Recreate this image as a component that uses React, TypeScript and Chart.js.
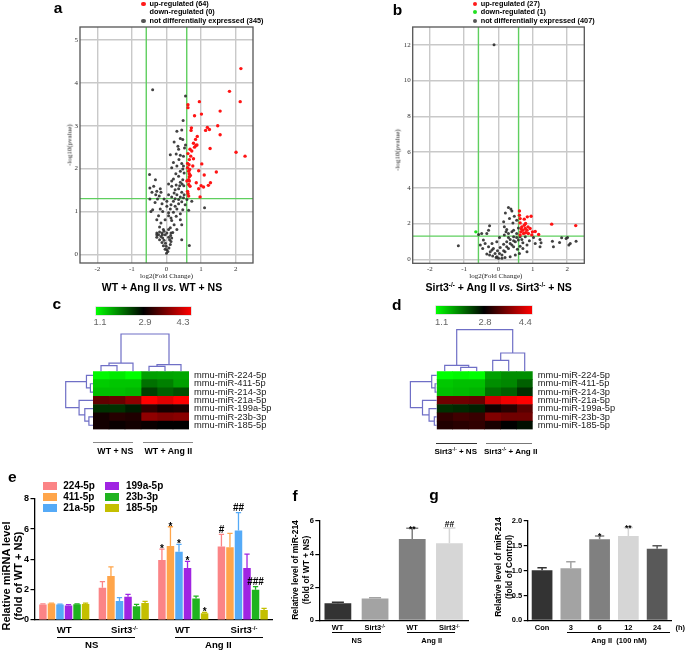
import React, { useEffect, useRef } from 'react';
import { Chart, registerables } from 'chart.js';

Chart.register(...registerables);

const SANS = '"Liberation Sans", Arial, Helvetica, sans-serif';
const SERIF = '"Liberation Serif", "Times New Roman", serif';
Chart.defaults.font.family = SANS;
Chart.defaults.color = '#000';

// ---------------- DATA ----------------
// Volcano a: WT + Ang II vs WT + NS  ([log2FC, -log10 p])
const volcA_up: number[][] = [
  [2.15, 4.33], [1.82, 3.8], [2.13, 3.56], [0.95, 3.56], [0.62, 3.49], [0.62, 3.42], [1.55, 3.34], [1.01, 3.27],
  [0.81, 3.23], [1.48, 3.0], [1.18, 2.96], [1.24, 2.91], [0.72, 2.95], [0.71, 2.89], [1.13, 2.89], [1.55, 2.79],
  [0.84, 2.68], [0.78, 2.59], [0.85, 2.54], [0.88, 2.55], [0.81, 2.5], [1.26, 2.47], [0.68, 2.45], [2.27, 2.29],
  [2.01, 2.38], [0.7, 2.29], [0.78, 2.23], [0.66, 2.21], [0.61, 2.12], [1.02, 2.11], [0.65, 2.09], [0.61, 2.02],
  [0.67, 1.98], [0.93, 1.95], [1.44, 1.92], [1.09, 1.85], [0.66, 1.88], [0.66, 1.81], [0.64, 1.74], [0.66, 1.71],
  [0.86, 1.67], [1.27, 1.67], [0.64, 1.63], [1.21, 1.61], [1.0, 1.6], [0.93, 1.53], [0.61, 1.47], [0.62, 1.42],
  [0.97, 1.34], [0.64, 1.36], [0.73, 2.41], [0.62, 2.35], [0.89, 2.75], [0.69, 1.84], [1.07, 1.57], [0.76, 2.06],
  [0.64, 1.94], [0.68, 1.59], [0.59, 1.71],
];
const volcA_down: number[][] = [];
const volcA_ns: number[][] = [
  [-0.4, 3.84], [0.55, 3.69], [0.48, 3.12], [0.44, 2.9], [0.3, 2.87], [0.47, 2.68], [0.4, 2.7], [0.22, 2.62],
  [0.55, 2.55], [0.52, 2.48], [0.35, 2.45], [0.11, 2.32], [0.28, 2.34], [0.4, 2.31], [0.49, 2.29], [0.36, 2.21],
  [0.2, 2.14], [0.44, 2.12], [0.3, 2.06], [0.15, 2.02], [0.47, 1.99], [0.4, 1.94], [0.51, 1.9], [-0.49, 1.86],
  [0.27, 1.88], [0.35, 1.82], [0.2, 1.76], [0.47, 1.74], [-0.32, 1.74], [0.4, 1.68], [0.06, 1.64], [0.28, 1.62],
  [0.15, 1.59], [0.5, 1.6], [-0.37, 1.59], [-0.48, 1.55], [0.35, 1.53], [-0.18, 1.53], [-0.28, 1.47], [-0.42, 1.45],
  [-0.16, 1.45], [0.44, 1.45], [0.22, 1.43], [-0.31, 1.39], [0.06, 1.39], [0.3, 1.39], [0.51, 1.39], [-0.21, 1.36],
  [0.15, 1.34], [0.4, 1.34], [-0.48, 1.29], [-0.26, 1.29], [-0.07, 1.29], [0.25, 1.3], [0.59, 1.28], [0.73, 1.24],
  [0.2, 1.24], [0.44, 1.23], [-0.33, 1.21], [-0.13, 1.18], [0.35, 1.18], [0.54, 1.16], [1.1, 1.09], [-0.4, 1.04],
  [-0.18, 1.06], [0.11, 1.06], [0.3, 1.06], [0.47, 1.04], [0.64, 1.03], [-0.45, 1.0], [-0.11, 1.0], [0.2, 0.98],
  [0.4, 0.95], [-0.23, 0.9], [0.06, 0.9], [0.28, 0.89], [-0.28, 0.81], [0.15, 0.79], [0.4, 0.81], [-0.16, 0.73],
  [0.22, 0.69], [0.44, 0.69], [-0.2, 0.64], [0.11, 0.62], [0.3, 0.58], [-0.09, 0.58], [-0.28, 0.5], [0.18, 0.51],
  [0.44, 0.34], [0.66, 0.21], [-0.23, 0.46], [-0.16, 0.42], [-0.11, 0.38], [-0.07, 0.33], [-0.03, 0.26], [-0.01, 0.19],
  [0.01, 0.11], [0.0, 0.03], [0.07, 0.15], [0.11, 0.23], [0.13, 0.3], [0.15, 0.38], [0.12, 0.44], [0.06, 0.4],
  [-0.04, 0.46], [-0.12, 0.46], [-0.28, 0.4], [-0.2, 0.34], [-0.13, 0.28], [-0.09, 0.2], [-0.04, 0.12], [0.04, 0.07],
  [0.09, 0.34], [0.01, 0.5], [-0.07, 0.54], [0.06, 0.58], [0.13, 0.5], [-0.13, 0.5], [-0.2, 0.52], [-0.28, 0.46],
  [0.06, 0.97], [0.13, 0.85], [-0.04, 0.81], [0.01, 1.12], [0.13, 1.16], [0.25, 1.12], [0.01, 1.24], [0.35, 1.28],
  [0.49, 1.32], [0.25, 1.51], [0.38, 1.6], [0.15, 1.71], [0.45, 1.64], [0.49, 2.06], [0.33, 2.52],
];

// Volcano b: Sirt3-/- + Ang II vs Sirt3-/- + NS
const volcB_up: number[][] = [
  [0.61, 2.71], [0.63, 2.28], [0.75, 2.25], [0.84, 2.38], [0.95, 2.41], [0.63, 2.04], [0.79, 2.01], [0.68, 1.82],
  [0.78, 1.73], [0.71, 1.63], [0.83, 1.63], [0.92, 1.73], [0.65, 1.54], [0.79, 1.49], [0.87, 1.45], [0.99, 1.54],
  [1.17, 1.39], [1.55, 1.97], [2.25, 1.89], [0.73, 1.45], [0.66, 1.71], [0.86, 1.82], [0.97, 1.37], [0.63, 1.36],
  [0.75, 1.91], [1.07, 1.56], [0.61, 2.47],
];
const volcB_down: number[][] = [[-0.66, 1.54]];
const volcB_ns: number[][] = [
  [-0.13, 12.0], [0.29, 2.9], [0.36, 2.82], [0.39, 2.71], [0.2, 2.6], [0.46, 2.41], [0.32, 2.28], [0.53, 2.19],
  [0.42, 2.04], [-0.26, 1.88], [0.17, 1.82], [0.58, 1.76], [0.24, 1.67], [0.44, 1.63], [-0.29, 1.63], [-0.34, 1.45],
  [-0.58, 1.39], [-0.49, 1.45], [0.29, 1.45], [0.53, 1.45], [0.78, 1.26], [1.02, 1.23], [1.21, 1.11], [1.84, 1.21],
  [2.01, 1.23], [1.97, 1.17], [2.26, 1.02], [2.09, 0.89], [2.05, 0.8], [1.78, 0.95], [1.57, 1.02], [1.6, 0.71],
  [1.24, 0.93], [1.21, 0.71], [1.07, 0.89], [0.9, 1.04], [0.83, 0.8], [0.71, 0.93], [-1.17, 0.76], [-0.44, 1.08],
  [-0.39, 0.89], [-0.29, 0.71], [-0.19, 0.52], [-0.1, 0.33], [-0.05, 0.15], [0.0, 0.06], [0.1, 0.24], [0.19, 0.43],
  [0.29, 0.61], [0.39, 0.8], [0.49, 0.98], [0.58, 1.08], [0.63, 1.26], [0.44, 1.26], [0.34, 1.11], [0.24, 0.98],
  [0.15, 0.84], [0.05, 0.67], [-0.03, 0.48], [-0.15, 0.61], [-0.24, 0.43], [-0.34, 0.3], [-0.26, 0.24], [-0.17, 0.19],
  [0.03, 0.33], [0.15, 0.48], [0.24, 0.71], [0.34, 0.89], [0.44, 1.04], [0.53, 1.23], [0.68, 1.11], [0.71, 0.61],
  [0.83, 0.43], [0.61, 0.33], [0.49, 0.24], [0.34, 0.15], [0.19, 0.11], [0.1, 0.06], [-0.07, 0.11], [-0.53, 0.8],
  [-0.46, 0.61], [-0.05, 0.98], [-0.19, 0.89], [0.03, 1.23], [0.17, 1.36], [0.39, 1.54], [0.15, 2.1], [0.22, 1.54],
  [0.29, 1.23], [0.44, 0.71], [0.55, 0.56], [0.63, 0.74],
];
const foldCut = 0.585; // log2(1.5)
const pCut = 1.301; // -log10(0.05)
const volcXTicks = [-2, -1, 0, 1, 2];
const volcAYTicks = [0, 1, 2, 3, 4, 5];
const volcBYTicks = [0, 2, 4, 6, 8, 10, 12];

// Heatmaps c / d
const heatRows = ['mmu-miR-224-5p', 'mmu-miR-411-5p', 'mmu-miR-214-3p', 'mmu-miR-21a-5p', 'mmu-miR-199a-5p', 'mmu-miR-23b-3p', 'mmu-miR-185-5p'];
const heatC: number[][] = [
  [1.15, 1.25, 1.1, 1.77, 1.75, 1.72],
  [1.46, 1.5, 1.5, 2.1, 2.0, 1.77],
  [1.55, 1.55, 1.6, 2.45, 2.22, 2.34],
  [3.43, 3.48, 3.69, 4.3, 4.13, 4.3],
  [2.56, 2.55, 2.7, 3.16, 3.01, 3.05],
  [3.01, 3.11, 3.07, 3.69, 3.6, 3.65],
  [3.0, 2.95, 3.0, 2.95, 2.9, 2.9],
];
const heatD: number[][] = [
  [1.1, 1.15, 1.1, 1.73, 1.85, 1.85],
  [1.47, 1.52, 1.52, 1.85, 1.9, 2.16],
  [1.52, 1.56, 1.6, 2.05, 2.16, 2.48],
  [3.5, 3.5, 3.45, 4.1, 4.3, 4.4],
  [2.48, 2.53, 2.59, 2.9, 3.05, 3.36],
  [3.1, 3.2, 3.15, 3.6, 3.5, 3.5],
  [3.0, 3.05, 3.1, 2.95, 2.8, 2.7],
];
const heatCScale = [1.1, 2.9, 4.3];
const heatDScale = [1.1, 2.8, 4.4];
// linkage: [nodeA, nodeB, mergeHeight (fraction of dendrogram depth)]
const colLinkC = [[0, 1, 0.15], [6, 2, 0.22], [3, 4, 0.13], [8, 5, 0.18], [7, 9, 1]];
const rowLinkC = [[1, 2, 0.095], [0, 7, 0.24], [5, 6, 0.15], [4, 9, 0.3], [3, 10, 0.51], [8, 11, 1]];
const colLinkD = [[1, 2, 0.096], [0, 6, 0.144], [3, 4, 0.264], [8, 5, 0.44], [7, 9, 1]];
const rowLinkD = [[1, 2, 0.06], [0, 7, 0.19], [5, 6, 0.09], [4, 9, 0.29], [3, 10, 0.54], [8, 11, 1]];

// Panel e
const eGroups = ['WT', 'Sirt3-/-', 'WT', 'Sirt3-/-'];
const eSeries = ['224-5p', '411-5p', '21a-5p', '199a-5p', '23b-3p', '185-5p'];
const e224 = [1.03, 2.13, 3.96, 4.84];
const e411 = [1.08, 2.9, 4.88, 4.79];
const e21a = [1.02, 1.25, 4.5, 5.91];
const e199a = [0.96, 1.54, 3.43, 3.43];
const e23b = [1.04, 0.9, 1.41, 2.0];
const e185 = [1.06, 1.12, 0.44, 0.66];
const eErr224 = [0.03, 0.4, 0.72, 0.81];
const eErr411 = [0.03, 0.6, 1.27, 0.92];
const eErr21a = [0.03, 0.22, 0.49, 1.17];
const eErr199a = [0.05, 0.15, 0.44, 0.92];
const eErr23b = [0.03, 0.13, 0.17, 0.2];
const eErr185 = [0.05, 0.11, 0.06, 0.11];
const eMarks224 = ['', '', '*', '#'];
const eMarks411 = ['', '', '*', ''];
const eMarks21a = ['', '', '*', '##'];
const eMarks199a = ['', '', '*', ''];
const eMarks23b = ['', '', '', '###'];
const eMarks185 = ['', '', '*', ''];

// Panel f
const fLabels = ['WT', 'Sirt3-/-', 'WT', 'Sirt3-/-'];
const fValues = [1.03, 1.31, 4.91, 4.65];
const fErrors = [0.06, 0.05, 0.65, 0.93];
const fMarks = ['', '', '**', '##'];

// Panel g
const gLabels = ['Con', '3', '6', '12', '24'];
const gValues = [1.01, 1.05, 1.63, 1.7, 1.44];
const gErrors = [0.05, 0.13, 0.07, 0.17, 0.06];
const gMarks = ['', '', '*', '**', ''];

// ---------------- STYLE ----------------
const eColors = ['#fb8486', '#ffa54a', '#55aaf7', '#a024e2', '#1fb31f', '#c4bf00'];
const fColors = ['#333333', '#a3a3a3', '#808080', '#d6d6d6'];
const gColors = ['#333333', '#a3a3a3', '#808080', '#d6d6d6', '#595959'];

function heatColor(v: number, sc: number[]) {
  const [lo, mid, hi] = sc;
  if (v <= mid) {
    const t = Math.max(0, Math.min(1, (mid - v) / (mid - lo)));
    return `rgb(0,${Math.round(255 * t)},0)`;
  }
  const t = Math.max(0, Math.min(1, (v - mid) / (hi - mid)));
  return `rgb(${Math.round(255 * t)},0,0)`;
}

// ---------------- PLUGINS ----------------
const volcanoPlugin = {
  id: 'volcano',
  beforeDatasetsDraw(chart: any, _a: any, opts: any) {
    if (!opts || opts.foldCut == null) return;
    const { ctx, chartArea: ca, scales } = chart;
    ctx.save();
    ctx.strokeStyle = '#5fcf5f';
    ctx.lineWidth = 1.4;
    ctx.beginPath();
    for (const v of [-opts.foldCut, opts.foldCut]) {
      const x = scales.x.getPixelForValue(v);
      ctx.moveTo(x, ca.top);
      ctx.lineTo(x, ca.bottom);
    }
    const y = scales.y.getPixelForValue(opts.pCut);
    ctx.moveTo(ca.left, y);
    ctx.lineTo(ca.right, y);
    ctx.stroke();
    ctx.restore();
  },
  afterDraw(chart: any, _a: any, opts: any) {
    if (!opts || opts.foldCut == null) return;
    const { ctx, chartArea: ca } = chart;
    ctx.save();
    ctx.strokeStyle = '#555';
    ctx.lineWidth = 1.3;
    ctx.strokeRect(ca.left, ca.top, ca.right - ca.left, ca.bottom - ca.top);
    ctx.restore();
  },
};

function drawTree(ctx: any, leaf: number[], links: number[][], base: number, span: number, vertical: boolean) {
  const pos = [...leaf];
  const hts = leaf.map(() => 0);
  ctx.beginPath();
  for (const [a, b, h] of links) {
    const pa = pos[a], pb = pos[b];
    const da = base - hts[a] * span, db = base - hts[b] * span, d = base - h * span;
    if (vertical) {
      ctx.moveTo(pa, da); ctx.lineTo(pa, d); ctx.lineTo(pb, d); ctx.lineTo(pb, db);
    } else {
      ctx.moveTo(da, pa); ctx.lineTo(d, pa); ctx.lineTo(d, pb); ctx.lineTo(db, pb);
    }
    pos.push((pa + pb) / 2);
    hts.push(h);
  }
  ctx.stroke();
}

const dendroPlugin = {
  id: 'dendro',
  afterDatasetsDraw(chart: any, _a: any, opts: any) {
    if (!opts || !opts.colLinks) return;
    const { ctx, chartArea: ca, scales } = chart;
    const nCols = chart.data.datasets.length;
    const nRows = chart.data.labels.length;
    const colPos = Array.from({ length: nCols }, (_, j) => scales.x.getPixelForValue(j + 0.5));
    const rowPos = Array.from({ length: nRows }, (_, i) => scales.y.getPixelForValue(i));
    ctx.save();
    ctx.strokeStyle = '#6f6fc6';
    ctx.lineWidth = 1.2;
    drawTree(ctx, colPos, opts.colLinks, ca.top, opts.colSpan, true);
    drawTree(ctx, rowPos, opts.rowLinks, ca.left, opts.rowSpan, false);
    ctx.restore();
  },
};

const errBarsPlugin = {
  id: 'errBars',
  afterDatasetsDraw(chart: any, _a: any, opts: any) {
    if (!opts || !opts.errors) return;
    const ctx = chart.ctx;
    const ys = chart.scales.y;
    chart.data.datasets.forEach((ds: any, di: number) => {
      const meta = chart.getDatasetMeta(di);
      const errs = opts.errors[di];
      const marks = opts.marks ? opts.marks[di] : null;
      meta.data.forEach((bar: any, i: number) => {
        const v = ds.data[i];
        const e = errs[i];
        const col = opts.colors ? opts.colors[i] : (Array.isArray(ds.backgroundColor) ? ds.backgroundColor[i] : ds.backgroundColor);
        const x = bar.x;
        const y0 = ys.getPixelForValue(v);
        const y1 = ys.getPixelForValue(v + e);
        const hw = (bar.width * opts.capFrac) / 2;
        ctx.save();
        ctx.strokeStyle = col;
        ctx.lineWidth = opts.lineWidth;
        ctx.beginPath();
        ctx.moveTo(x, y0);
        ctx.lineTo(x, y1);
        ctx.moveTo(x - hw, y1);
        ctx.lineTo(x + hw, y1);
        ctx.stroke();
        const m = marks && marks[i];
        if (m) {
          ctx.fillStyle = '#000';
          ctx.font = `bold ${opts.markSize}px ${SANS}`;
          ctx.textAlign = 'center';
          ctx.textBaseline = 'alphabetic';
          const off = m[0] === '*' ? opts.starOffset : opts.hashOffset;
          ctx.fillText(m, x, y1 + off);
        }
        ctx.restore();
      });
    });
  },
};

Chart.register(volcanoPlugin as any, dendroPlugin as any, errBarsPlugin as any);

// ---------------- CONFIG BUILDERS ----------------
function pts(a: number[][]) {
  return a.map(([x, y]) => ({ x, y }));
}

function fixedTicks(values: number[]) {
  return (s: any) => { s.ticks = values.map((value) => ({ value })); };
}

function volcanoConfig(up: number[][], down: number[][], ns: number[][], yMin: number, yMax: number, yTicks: number[], pad: any, yW: number) {
  const tickFont = { family: SERIF, size: 7 };
  return {
    type: 'scatter',
    data: {
      datasets: [
        { data: pts(up), backgroundColor: '#ff1414', pointRadius: 1.7, borderWidth: 0 },
        { data: pts(down), backgroundColor: '#22e022', pointRadius: 1.7, borderWidth: 0 },
        { data: pts(ns), backgroundColor: 'rgba(45,45,45,0.9)', pointRadius: 1.5, borderWidth: 0 },
      ],
    },
    options: {
      responsive: false,
      animation: false,
      devicePixelRatio: 1,
      layout: { padding: pad },
      plugins: {
        legend: { display: false },
        tooltip: { enabled: false },
        volcano: { foldCut, pCut },
      },
      scales: {
        x: {
          type: 'linear', min: -2.5, max: 2.5,
          afterBuildTicks: fixedTicks(volcXTicks),
          ticks: { font: tickFont, color: '#333', padding: 2, maxRotation: 0 },
          grid: { color: '#c9c9c9', lineWidth: 1.4, drawTicks: false },
          border: { display: false },
          afterFit: (s: any) => { s.height = 17; },
        },
        y: {
          type: 'linear', min: yMin, max: yMax,
          afterBuildTicks: fixedTicks(yTicks),
          ticks: { font: tickFont, color: '#333', padding: 2 },
          grid: { color: '#c9c9c9', lineWidth: 1.4, drawTicks: false },
          border: { display: false },
          afterFit: (s: any) => { s.width = yW; },
        },
      },
    },
  };
}

function heatConfig(vals: number[][], sc: number[], pad: any, yW: number, colLinks: number[][], rowLinks: number[][], colSpan: number, rowSpan: number) {
  const nCols = vals[0].length;
  return {
    type: 'bar',
    data: {
      labels: heatRows,
      datasets: Array.from({ length: nCols }, (_, j) => ({
        data: heatRows.map(() => 1),
        backgroundColor: vals.map((row) => heatColor(row[j], sc)),
        borderWidth: 0,
        barPercentage: 1,
        categoryPercentage: 1,
      })),
    },
    options: {
      indexAxis: 'y',
      responsive: false,
      animation: false,
      devicePixelRatio: 1,
      layout: { padding: pad },
      plugins: {
        legend: { display: false },
        tooltip: { enabled: false },
        dendro: { colLinks, rowLinks, colSpan, rowSpan },
      },
      scales: {
        x: { type: 'linear', stacked: true, min: 0, max: nCols, display: false },
        y: {
          type: 'category', position: 'right', stacked: true,
          grid: { display: false, drawTicks: false },
          border: { display: false },
          ticks: { font: { family: SANS, size: 9.3 }, color: '#1a1a1a', padding: 5, autoSkip: false },
          afterFit: (s: any) => { s.width = yW; },
        },
      },
    },
  };
}

function barAxes(yMax: number, yStep: number, yW: number, tickSize: number, decimals: number) {
  return {
    x: {
      grid: { display: false, drawTicks: false },
      ticks: { display: false },
      border: { color: '#000', width: 1.3 },
      afterFit: (s: any) => { s.height = 0; },
    },
    y: {
      min: 0, max: yMax,
      ticks: {
        stepSize: yStep, font: { family: SANS, size: tickSize, weight: 'bold' }, color: '#000', padding: 1.5,
        callback: (v: number) => v.toFixed(decimals),
      },
      grid: { drawOnChartArea: false, drawTicks: true, tickLength: 4, color: '#000', lineWidth: 1.2 },
      border: { color: '#000', width: 1.3 },
      afterFit: (s: any) => { s.width = yW; },
    },
  };
}

function eConfig() {
  const vals = [e224, e411, e21a, e199a, e23b, e185];
  return {
    type: 'bar',
    data: {
      labels: eGroups,
      datasets: eSeries.map((name, i) => ({
        label: name, data: vals[i], backgroundColor: eColors[i], borderWidth: 0,
        categoryPercentage: 0.86, barPercentage: 0.88,
      })),
    },
    options: {
      responsive: false, animation: false, devicePixelRatio: 1,
      layout: { padding: { left: 0, top: 28.7, right: 17.5, bottom: 31 } },
      plugins: {
        legend: { display: false }, tooltip: { enabled: false },
        errBars: {
          errors: [eErr224, eErr411, eErr21a, eErr199a, eErr23b, eErr185],
          marks: [eMarks224, eMarks411, eMarks21a, eMarks199a, eMarks23b, eMarks185],
          capFrac: 0.7, lineWidth: 1.3, markSize: 10, starOffset: 3, hashOffset: -1.5,
        },
      },
      scales: barAxes(8, 2, 34.5, 9, 0),
    },
  };
}

function simpleBarConfig(labels: string[], values: number[], errors: number[], marks: string[], colors: string[], yMax: number, yStep: number, yW: number, padRight: number, decimals: number) {
  return {
    type: 'bar',
    data: {
      labels,
      datasets: [{ data: values, backgroundColor: colors, borderWidth: 0, categoryPercentage: 0.8, barPercentage: 0.9 }],
    },
    options: {
      responsive: false, animation: false, devicePixelRatio: 1,
      layout: { padding: { left: 0, top: 51, right: padRight, bottom: 30.7 } },
      plugins: {
        legend: { display: false }, tooltip: { enabled: false },
        errBars: { errors: [errors], marks: [marks], colors, capFrac: 0.45, lineWidth: 1.5, markSize: 8.5, starOffset: 3.5, hashOffset: -1 },
      },
      scales: barAxes(yMax, yStep, yW, 7.5, decimals),
    },
  };
}

// ---------------- COMPONENTS ----------------
function ChartCanvas({ x, y, w, h, make }: { x: number; y: number; w: number; h: number; make: () => any }) {
  const ref = useRef<HTMLCanvasElement>(null);
  useEffect(() => {
    const chart = new Chart(ref.current as HTMLCanvasElement, make());
    return () => chart.destroy();
  }, []);
  return <canvas ref={ref} width={w} height={h} style={{ position: 'absolute', left: x, top: y, width: w, height: h }} />;
}

function Txt(props: { x: number; y: number; size: number; bold?: boolean; italic?: boolean; color?: string; family?: string; anchor?: string; rot?: number; lh?: number; children: any }) {
  const { x, y, size, bold, italic, color = '#000', family = SANS, anchor = 'middle', rot = 0, lh = 1, children } = props;
  const tx = anchor === 'start' ? '0' : anchor === 'end' ? '-100%' : '-50%';
  return (
    <div
      style={{
        position: 'absolute', left: x, top: y,
        transform: `translate(${tx},-50%)` + (rot ? ` rotate(${rot}deg)` : ''),
        fontSize: size, fontWeight: bold ? 'bold' : 'normal', fontStyle: italic ? 'italic' : 'normal',
        color, fontFamily: family, lineHeight: lh, whiteSpace: 'nowrap', textAlign: 'center',
      }}
    >
      {children}
    </div>
  );
}

function Sup() {
  return <sup style={{ fontSize: '0.6em', verticalAlign: '0.55em', lineHeight: 0 }}>-/-</sup>;
}

function HLine({ x1, x2, y, color = '#000', t = 1.2 }: { x1: number; x2: number; y: number; color?: string; t?: number }) {
  return <div style={{ position: 'absolute', left: x1, top: y - t / 2, width: x2 - x1, height: 0, borderTop: `${t}px solid ${color}` }} />;
}

function Dot({ x, y, color }: { x: number; y: number; color: string }) {
  return <div style={{ position: 'absolute', left: x - 2.2, top: y - 2.2, width: 4.4, height: 4.4, borderRadius: '50%', background: color }} />;
}

function Swatch({ x, y, color }: { x: number; y: number; color: string }) {
  return <div style={{ position: 'absolute', left: x, top: y - 4.2, width: 14, height: 8.4, background: color }} />;
}

function ColorBar({ x, y, w, h }: { x: number; y: number; w: number; h: number }) {
  return <div style={{ position: 'absolute', left: x, top: y, width: w, height: h, background: 'linear-gradient(to right, #00ff00 0%, #000000 50%, #ff0000 100%)', boxShadow: '0 0 0 0.6px #cfcfcf' }} />;
}

function SirtLabel() {
  return <>Sirt3<Sup /></>;
}

export default function App() {
  const legendSize = 7.3;
  return (
    <div style={{ position: 'absolute', left: 0, top: 0, width: 685, height: 651, background: '#fff', overflow: 'hidden', fontFamily: SANS }}>
      {/* ---------- a ---------- */}
      <ChartCanvas x={0} y={0} w={340} h={300}
        make={() => volcanoConfig(volcA_up, volcA_down, volcA_ns, -0.2, 5.3, volcAYTicks, { left: 66, top: 27, right: 87, bottom: 20 }, 14)} />
      <Txt x={58} y={8} size={15.5} bold>a</Txt>
      <Dot x={143.5} y={4} color="#ff1a1a" />
      <Txt x={149.5} y={4} size={legendSize} bold anchor="start">up-regulated (64)</Txt>
      <Txt x={149.5} y={12.3} size={legendSize} bold anchor="start">down-regulated (0)</Txt>
      <Dot x={143.5} y={20.7} color="#555" />
      <Txt x={149.5} y={20.7} size={legendSize} bold anchor="start">not differentially expressed (345)</Txt>
      <Txt x={70} y={145} size={7} family={SERIF} rot={-90} color="#222">-log10(pvalue)</Txt>
      <Txt x={166.5} y={276} size={7} family={SERIF} color="#222">log2(Fold Change)</Txt>
      <Txt x={162} y={287} size={10.5} bold>WT + Ang II <span style={{ fontStyle: 'italic' }}>vs.</span> WT + NS</Txt>

      {/* ---------- b ---------- */}
      <ChartCanvas x={340} y={0} w={345} h={300}
        make={() => volcanoConfig(volcB_up, volcB_down, volcB_ns, -0.22, 13, volcBYTicks, { left: 54, top: 27, right: 100.7, bottom: 19.7 }, 18.7)} />
      <Txt x={397.5} y={9.5} size={15.5} bold>b</Txt>
      <Dot x={475} y={4} color="#ff1a1a" />
      <Txt x={480.7} y={4} size={legendSize} bold anchor="start">up-regulated (27)</Txt>
      <Dot x={475} y={12.3} color="#22e022" />
      <Txt x={480.7} y={12.3} size={legendSize} bold anchor="start">down-regulated (1)</Txt>
      <Dot x={475} y={20.7} color="#555" />
      <Txt x={480.7} y={20.7} size={legendSize} bold anchor="start">not differentially expressed (407)</Txt>
      <Txt x={398.3} y={150} size={7} family={SERIF} rot={-90} color="#222">-log10(pvalue)</Txt>
      <Txt x={495.8} y={275.5} size={7} family={SERIF} color="#222">log2(Fold Change)</Txt>
      <Txt x={498.7} y={287} size={10.5} bold><SirtLabel /> + Ang II <span style={{ fontStyle: 'italic' }}>vs.</span> <SirtLabel /> + NS</Txt>

      {/* ---------- c ---------- */}
      <ChartCanvas x={0} y={290} w={345} h={150}
        make={() => heatConfig(heatC, heatCScale, { left: 93, top: 81.3, right: 0, bottom: 1.7 }, 156, colLinkC, rowLinkC, 37.3, 27.3)} />
      <Txt x={56.7} y={304} size={15.5} bold>c</Txt>
      <ColorBar x={96} y={306.7} w={94.7} h={8} />
      <Txt x={100} y={322} size={9.5} color="#666">1.1</Txt>
      <Txt x={145} y={322} size={9.5} color="#666">2.9</Txt>
      <Txt x={183} y={322} size={9.5} color="#666">4.3</Txt>
      <HLine x1={93.3} x2={133.3} y={442.7} color="#8a8a8a" t={1.3} />
      <HLine x1={143.3} x2={193.3} y={442.7} color="#8a8a8a" t={1.3} />
      <Txt x={115.3} y={450.5} size={8.8} bold>WT + NS</Txt>
      <Txt x={168.3} y={450.5} size={8.8} bold>WT + Ang II</Txt>

      {/* ---------- d ---------- */}
      <ChartCanvas x={345} y={290} w={340} h={150}
        make={() => heatConfig(heatD, heatDScale, { left: 91.7, top: 81.3, right: 0, bottom: 1.7 }, 152.3, colLinkD, rowLinkD, 41.6, 26.3)} />
      <Txt x={396.7} y={305.3} size={15.5} bold>d</Txt>
      <ColorBar x={436} y={305.7} w={96.3} h={8.3} />
      <Txt x={441.7} y={321.7} size={9.5} color="#666">1.1</Txt>
      <Txt x={485} y={321.7} size={9.5} color="#666">2.8</Txt>
      <Txt x={525.3} y={321.7} size={9.5} color="#666">4.4</Txt>
      <HLine x1={435.7} x2={476.7} y={444} color="#333" t={1.2} />
      <HLine x1={485.7} x2={532.3} y={443.3} color="#777" t={1.2} />
      <Txt x={455.7} y={451.7} size={8} bold><SirtLabel /> + NS</Txt>
      <Txt x={510.7} y={451.7} size={8} bold><SirtLabel /> + Ang II</Txt>

      {/* ---------- e ---------- */}
      <ChartCanvas x={0} y={470} w={290} h={181} make={eConfig} />
      <Txt x={12.3} y={476.5} size={15.5} bold>e</Txt>
      {eSeries.map((name, i) => {
        const col = Math.floor(i / 3);
        const row = i % 3;
        const sx = col === 0 ? 43.3 : 105;
        const tx = col === 0 ? 63.3 : 126;
        const yy = 485.8 + row * 11.1;
        return (
          <React.Fragment key={name}>
            <Swatch x={sx} y={yy} color={eColors[i]} />
            <Txt x={tx} y={yy} size={10} bold anchor="start">{name}</Txt>
          </React.Fragment>
        );
      })}
      <Txt x={11.5} y={576} size={11} bold rot={-90} lh={1.1}>Relative miRNA level<br />(fold of WT + NS)</Txt>
      <Txt x={64.2} y={630} size={9.6} bold>WT</Txt>
      <Txt x={124.5} y={630} size={9.6} bold><SirtLabel /></Txt>
      <Txt x={182.5} y={630} size={9.6} bold>WT</Txt>
      <Txt x={244} y={630} size={9.6} bold><SirtLabel /></Txt>
      <HLine x1={56.7} x2={135} y={637.7} />
      <HLine x1={175} x2={263.3} y={637.7} />
      <Txt x={91.7} y={645} size={9.6} bold>NS</Txt>
      <Txt x={218.3} y={645} size={9.6} bold>Ang II</Txt>

      {/* ---------- f ---------- */}
      <ChartCanvas x={290} y={470} w={200} h={181}
        make={() => simpleBarConfig(fLabels, fValues, fErrors, fMarks, fColors, 6, 2, 29.3, 22, 0)} />
      <Txt x={295} y={496} size={15.5} bold>f</Txt>
      <Txt x={301} y={570} size={8.5} bold rot={-90} lh={1.25}>Relative level of miR-214<br />(fold of WT + NS)</Txt>
      <Txt x={337.6} y={628.3} size={7.5} bold>WT</Txt>
      <Txt x={374.9} y={628.3} size={7.5} bold><SirtLabel /></Txt>
      <Txt x={412.1} y={628.3} size={7.5} bold>WT</Txt>
      <Txt x={449.4} y={628.3} size={7.5} bold><SirtLabel /></Txt>
      <HLine x1={332.3} x2={380.7} y={632.7} t={1} />
      <HLine x1={406.7} x2={455} y={632.7} t={1} />
      <Txt x={356.7} y={641.3} size={7.5} bold>NS</Txt>
      <Txt x={431.7} y={641.3} size={7.5} bold>Ang II</Txt>

      {/* ---------- g ---------- */}
      <ChartCanvas x={490} y={470} w={195} h={181}
        make={() => simpleBarConfig(gLabels, gValues, gErrors, gMarks, gColors, 2, 0.5, 37.7, 13.5, 1)} />
      <Txt x={434} y={495} size={15.5} bold>g</Txt>
      <Txt x={504} y={567} size={8.5} bold rot={-90} lh={1.25}>Relative level of miR-214<br />(fold of Control)</Txt>
      {gLabels.map((l, i) => (
        <Txt key={l} x={527.7 + (i + 0.5) * 28.76} y={628.3} size={7.5} bold>{l}</Txt>
      ))}
      <Txt x={685} y={628.3} size={7.5} bold anchor="end">(h)</Txt>
      <HLine x1={566.7} x2={670} y={632.7} t={1} />
      <Txt x={619} y={641.3} size={7.5} bold>Ang II&nbsp;&nbsp;(100 nM)</Txt>
    </div>
  );
}
